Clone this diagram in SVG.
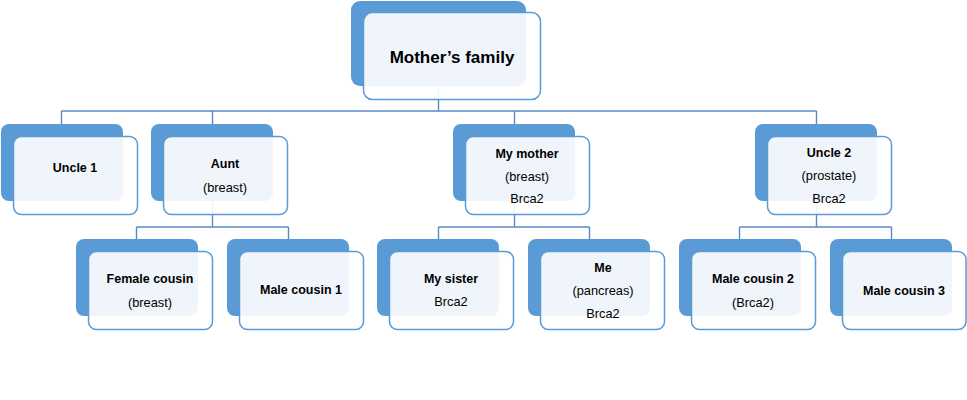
<svg xmlns="http://www.w3.org/2000/svg" width="967" height="400" viewBox="0 0 967 400">
<style>
.bk{fill:#5B9BD5}
.fr{fill:#ffffff;fill-opacity:0.9;stroke:#5B9BD5;stroke-width:1.5}
.c{fill:none;stroke:#5A8AC6;stroke-width:1.4}
text{font-family:"Liberation Sans",Arial,sans-serif;fill:#000;text-anchor:middle}
.b{font-weight:bold;font-size:12.5px}
.r{font-size:12.8px}
.t{font-weight:bold;font-size:17px}
</style>
<rect width="967" height="400" fill="#fff"/>
<g id="connectors">
<path class="c" d="M438.5 86V111M61.5 111H816.5M61.5 111V124M212.5 111V124M514.5 111V124M816.5 111V124"/>
<path class="c" d="M212.5 201V227M136.5 227H288.5M136.5 227V239M288.5 227V239"/>
<path class="c" d="M514.5 201V227M438.5 227H589.5M438.5 227V239M589.5 227V239"/>
<path class="c" d="M816.5 201V227M739.5 227H891.5M739.5 227V239M891.5 227V239"/>
</g>
<g id="mothers-family">
<rect class="bk" x="351" y="1" width="175" height="85" rx="9"/>
<rect class="fr" x="363.5" y="12.5" width="177" height="87" rx="9"/>
<text class="t" x="452" y="63">Mother’s family</text>
</g>
<g id="uncle1">
<rect class="bk" x="1" y="124" width="122" height="77" rx="8"/>
<rect class="fr" x="13.5" y="136.5" width="124" height="78" rx="8"/>
<text class="b" x="75" y="171.5">Uncle 1</text>
</g>
<g id="aunt">
<rect class="bk" x="151" y="124" width="122" height="77" rx="8"/>
<rect class="fr" x="163.5" y="136.5" width="124" height="78" rx="8"/>
<text class="b" x="225" y="167.5">Aunt</text>
<text class="r" x="225" y="191.5">(breast)</text>
</g>
<g id="my-mother">
<rect class="bk" x="453" y="124" width="122" height="77" rx="8"/>
<rect class="fr" x="465.5" y="136.5" width="124" height="78" rx="8"/>
<text class="b" x="527" y="157.5">My mother</text>
<text class="r" x="527" y="180.5">(breast)</text>
<text class="r" x="527" y="202.5">Brca2</text>
</g>
<g id="uncle2">
<rect class="bk" x="755" y="124" width="122" height="77" rx="8"/>
<rect class="fr" x="767.5" y="136.5" width="124" height="78" rx="8"/>
<text class="b" x="829" y="156.5">Uncle 2</text>
<text class="r" x="829" y="179.5">(prostate)</text>
<text class="r" x="829" y="202.5">Brca2</text>
</g>
<g id="female-cousin">
<rect class="bk" x="76" y="239" width="122" height="77" rx="8"/>
<rect class="fr" x="88.5" y="251.5" width="124" height="78" rx="8"/>
<text class="b" x="150" y="282.5">Female cousin</text>
<text class="r" x="150" y="306.5">(breast)</text>
</g>
<g id="male-cousin1">
<rect class="bk" x="227" y="239" width="122" height="77" rx="8"/>
<rect class="fr" x="239.5" y="251.5" width="124" height="78" rx="8"/>
<text class="b" x="301" y="293.5">Male cousin 1</text>
</g>
<g id="my-sister">
<rect class="bk" x="377" y="239" width="122" height="77" rx="8"/>
<rect class="fr" x="389.5" y="251.5" width="124" height="78" rx="8"/>
<text class="b" x="451" y="282.5">My sister</text>
<text class="r" x="451" y="305.5">Brca2</text>
</g>
<g id="me">
<rect class="bk" x="528" y="239" width="122" height="77" rx="8"/>
<rect class="fr" x="540.5" y="251.5" width="124" height="78" rx="8"/>
<text class="b" x="603" y="271.5">Me</text>
<text class="r" x="603" y="294.5">(pancreas)</text>
<text class="r" x="603" y="317.5">Brca2</text>
</g>
<g id="male-cousin2">
<rect class="bk" x="679" y="239" width="122" height="77" rx="8"/>
<rect class="fr" x="691.5" y="251.5" width="124" height="78" rx="8"/>
<text class="b" x="753" y="282.5">Male cousin 2</text>
<text class="r" x="753" y="306.5">(Brca2)</text>
</g>
<g id="male-cousin3">
<rect class="bk" x="830" y="239" width="122" height="77" rx="8"/>
<rect class="fr" x="842.5" y="251.5" width="123.5" height="78" rx="8"/>
<text class="b" x="904" y="294.5">Male cousin 3</text>
</g>
</svg>
